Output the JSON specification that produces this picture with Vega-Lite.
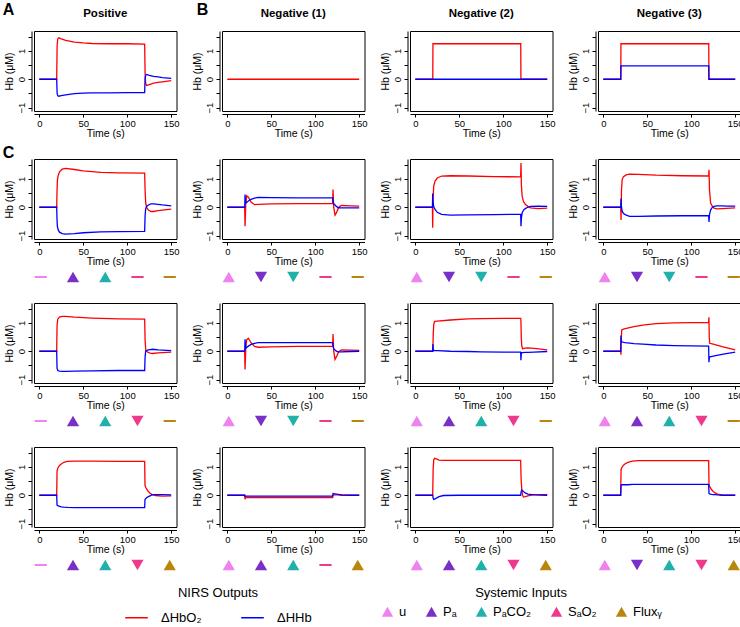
{
"$schema":"https://vega.github.io/schema/vega-lite/v6.json",
"padding":{"left":2,"top":1,"right":0,"bottom":0},
"bounds":"flush",
"columns":4,
"spacing":{"row":8,"column":45},
"resolve":{"scale":{"color":"shared","fill":"shared","shape":"shared"}},
"datasets":{
"L":[{"p":"A1","k":"letter","lab":"A","t":-35,"v":2.44},{"p":"A2","k":"letter","lab":"B","t":-28,"v":2.44},{"p":"C11","k":"letter","lab":"C","t":-35,"v":1.9},
{"p":"A1","k":"title","lab":"Positive","t":75,"v":2.3},{"p":"A2","k":"title","lab":"Negative (1)","t":75,"v":2.3},{"p":"A3","k":"title","lab":"Negative (2)","t":75,"v":2.3},{"p":"A4","k":"title","lab":"Negative (3)","t":75,"v":2.3}],
"A1":[{"t":0,"o":0,"h":0},{"t":19.8,"o":0,"h":0},{"t":20.3,"o":1.2,"h":-0.5},{"t":21,"o":1.42,"h":-0.58},{"t":22,"o":1.46,"h":-0.6},{"t":25,"o":1.42,"h":-0.58},{"t":30,"o":1.37,"h":-0.55},{"t":40,"o":1.31,"h":-0.51},{"t":50,"o":1.28,"h":-0.49},{"t":60,"o":1.26,"h":-0.48},{"t":80,"o":1.25,"h":-0.48},{"t":100,"o":1.25,"h":-0.47},{"t":119.8,"o":1.24,"h":-0.47},{"t":120.3,"o":0.2,"h":0.05},{"t":121,"o":-0.15,"h":0.14},{"t":122,"o":-0.22,"h":0.17},{"t":125,"o":-0.19,"h":0.14},{"t":130,"o":-0.14,"h":0.1},{"t":135,"o":-0.11,"h":0.08},{"t":140,"o":-0.09,"h":0.06},{"t":150,"o":-0.05,"h":0.03}],
"A2":[{"t":0,"o":0},{"t":150,"o":0}],
"A3":[{"t":0,"o":0,"h":0},{"t":19.9,"o":0,"h":0},{"t":20.1,"o":1.25,"h":0},{"t":119.9,"o":1.25,"h":0},{"t":120.1,"o":0,"h":0},{"t":150,"o":0,"h":0}],
"A4":[{"t":0,"o":0,"h":0},{"t":19.9,"o":0,"h":0},{"t":20.1,"o":1.25,"h":0.47},{"t":119.9,"o":1.25,"h":0.47},{"t":120.1,"o":0,"h":0},{"t":150,"o":0,"h":0}],
"C11":[{"t":0,"o":0,"h":0},{"t":19.8,"o":0,"h":0},{"t":20.2,"o":0.6,"h":-0.45},{"t":20.6,"o":0.95,"h":-0.68},{"t":21.5,"o":1.12,"h":-0.8},{"t":23,"o":1.25,"h":-0.88},{"t":26,"o":1.34,"h":-0.93},{"t":30,"o":1.37,"h":-0.95},{"t":40,"o":1.33,"h":-0.93},{"t":50,"o":1.28,"h":-0.9},{"t":70,"o":1.23,"h":-0.87},{"t":90,"o":1.21,"h":-0.86},{"t":119.8,"o":1.2,"h":-0.85},{"t":120.3,"o":0.6,"h":-0.3},{"t":121,"o":0.15,"h":-0.05},{"t":122,"o":0,"h":0.03},{"t":124,"o":-0.1,"h":0.08},{"t":127,"o":-0.15,"h":0.12},{"t":130,"o":-0.15,"h":0.12},{"t":135,"o":-0.12,"h":0.1},{"t":140,"o":-0.1,"h":0.08},{"t":150,"o":-0.07,"h":0.05}],
"C12":[{"t":0,"o":0,"h":0},{"t":19.8,"o":0,"h":0},{"t":20.2,"o":-0.67,"h":0.45},{"t":21,"o":0.1,"h":0.15},{"t":22,"o":0.4,"h":0.17},{"t":24,"o":0.35,"h":0.22},{"t":27,"o":0.18,"h":0.28},{"t":31,"o":0.09,"h":0.32},{"t":35,"o":0.1,"h":0.35},{"t":50,"o":0.12,"h":0.34},{"t":80,"o":0.13,"h":0.33},{"t":119.8,"o":0.13,"h":0.33},{"t":120.2,"o":0.62,"h":0.2},{"t":121,"o":0,"h":0.12},{"t":122.5,"o":-0.28,"h":0.08},{"t":124,"o":-0.2,"h":0.03},{"t":126,"o":-0.05,"h":-0.01},{"t":128,"o":0.03,"h":-0.02},{"t":130,"o":0.06,"h":-0.02},{"t":140,"o":0.05,"h":-0.02},{"t":150,"o":0.04,"h":-0.02}],
"C13":[{"t":0,"o":0,"h":0},{"t":19.5,"o":0,"h":0},{"t":19.8,"o":-0.72,"h":0.48},{"t":20.2,"o":0.3,"h":0.2},{"t":21,"o":0.75,"h":0.02},{"t":22.5,"o":0.92,"h":-0.08},{"t":25,"o":1.03,"h":-0.18},{"t":30,"o":1.1,"h":-0.25},{"t":40,"o":1.11,"h":-0.28},{"t":60,"o":1.1,"h":-0.27},{"t":90,"o":1.08,"h":-0.26},{"t":119.8,"o":1.07,"h":-0.25},{"t":120.2,"o":1.56,"h":-0.67},{"t":120.6,"o":0.8,"h":-0.4},{"t":121.5,"o":0.39,"h":-0.2},{"t":123,"o":0.2,"h":-0.1},{"t":125,"o":0.1,"h":-0.05},{"t":128,"o":0.03,"h":0},{"t":131,"o":-0.02,"h":0.03},{"t":140,"o":-0.05,"h":0.04},{"t":150,"o":-0.03,"h":0.03}],
"C14":[{"t":0,"o":0,"h":0},{"t":19.8,"o":0,"h":0},{"t":20.2,"o":-0.45,"h":0.31},{"t":20.7,"o":0.6,"h":0},{"t":21.5,"o":0.98,"h":-0.14},{"t":23,"o":1.08,"h":-0.22},{"t":26,"o":1.14,"h":-0.28},{"t":30,"o":1.17,"h":-0.32},{"t":40,"o":1.16,"h":-0.32},{"t":60,"o":1.13,"h":-0.31},{"t":90,"o":1.11,"h":-0.3},{"t":119.8,"o":1.1,"h":-0.3},{"t":120.2,"o":1.32,"h":-0.52},{"t":120.8,"o":0.6,"h":-0.25},{"t":122,"o":0.15,"h":-0.1},{"t":124,"o":0.03,"h":0},{"t":126,"o":-0.03,"h":0.03},{"t":129,"o":-0.06,"h":0.05},{"t":135,"o":-0.05,"h":0.05},{"t":140,"o":-0.04,"h":0.04},{"t":150,"o":-0.02,"h":0.04}],
"C21":[{"t":0,"o":0,"h":0},{"t":19.8,"o":0,"h":0},{"t":20.2,"o":0.9,"h":-0.6},{"t":21,"o":1.13,"h":-0.68},{"t":23,"o":1.2,"h":-0.7},{"t":26,"o":1.23,"h":-0.71},{"t":30,"o":1.23,"h":-0.71},{"t":40,"o":1.2,"h":-0.7},{"t":60,"o":1.17,"h":-0.69},{"t":90,"o":1.14,"h":-0.68},{"t":119.8,"o":1.13,"h":-0.68},{"t":120.3,"o":0.4,"h":-0.2},{"t":121,"o":0.05,"h":0},{"t":123,"o":-0.03,"h":0.04},{"t":126,"o":-0.07,"h":0.06},{"t":129,"o":-0.08,"h":0.07},{"t":135,"o":-0.06,"h":0.05},{"t":140,"o":-0.05,"h":0.04},{"t":150,"o":-0.03,"h":0.02}],
"C22":[{"t":0,"o":0,"h":0},{"t":19.8,"o":0,"h":0},{"t":20.2,"o":-0.64,"h":0.42},{"t":21,"o":0.1,"h":0.1},{"t":22,"o":0.4,"h":0.13},{"t":24,"o":0.46,"h":0.18},{"t":27,"o":0.3,"h":0.24},{"t":31,"o":0.17,"h":0.28},{"t":35,"o":0.14,"h":0.3},{"t":50,"o":0.15,"h":0.3},{"t":80,"o":0.17,"h":0.3},{"t":119.8,"o":0.17,"h":0.3},{"t":120.2,"o":0.61,"h":0.2},{"t":121,"o":0,"h":0.08},{"t":122.5,"o":-0.29,"h":0.04},{"t":124,"o":-0.2,"h":0},{"t":126,"o":-0.06,"h":-0.02},{"t":128,"o":0.02,"h":-0.02},{"t":130,"o":0.05,"h":-0.02},{"t":140,"o":0.04,"h":-0.01},{"t":150,"o":0.03,"h":0}],
"C23":[{"t":0,"o":0,"h":0},{"t":19.8,"o":0,"h":0},{"t":20.1,"o":0.2,"h":0.25},{"t":20.4,"o":0.6,"h":0.1},{"t":21,"o":0.95,"h":0.03},{"t":22,"o":1.05,"h":0.02},{"t":25,"o":1.06,"h":0.02},{"t":40,"o":1.1,"h":0},{"t":60,"o":1.14,"h":-0.01},{"t":75,"o":1.15,"h":-0.02},{"t":100,"o":1.16,"h":-0.03},{"t":119.8,"o":1.16,"h":-0.03},{"t":120.1,"o":1.1,"h":-0.32},{"t":120.5,"o":0.5,"h":-0.1},{"t":121,"o":0.2,"h":-0.05},{"t":122,"o":0.09,"h":-0.05},{"t":125,"o":0.11,"h":-0.04},{"t":128,"o":0.12,"h":-0.04},{"t":135,"o":0.1,"h":-0.03},{"t":150,"o":0.05,"h":-0.01}],
"C24":[{"t":0,"o":0,"h":0},{"t":19.8,"o":0,"h":0},{"t":20.1,"o":-0.12,"h":0.55},{"t":20.4,"o":0.4,"h":0.4},{"t":21,"o":0.75,"h":0.33},{"t":23,"o":0.78,"h":0.31},{"t":25,"o":0.8,"h":0.3},{"t":35,"o":0.87,"h":0.27},{"t":45,"o":0.92,"h":0.25},{"t":60,"o":0.97,"h":0.22},{"t":80,"o":1,"h":0.2},{"t":100,"o":1.01,"h":0.19},{"t":119.8,"o":1.02,"h":0.18},{"t":120.1,"o":1.2,"h":-0.39},{"t":120.5,"o":0.5,"h":-0.25},{"t":121,"o":0.28,"h":-0.2},{"t":125,"o":0.25,"h":-0.17},{"t":135,"o":0.16,"h":-0.11},{"t":150,"o":0.05,"h":-0.03}],
"C31":[{"t":0,"o":0,"h":0},{"t":19.8,"o":0,"h":0},{"t":20.2,"o":0.85,"h":-0.35},{"t":21,"o":0.95,"h":-0.37},{"t":23,"o":1.05,"h":-0.39},{"t":25,"o":1.1,"h":-0.41},{"t":28,"o":1.16,"h":-0.42},{"t":32,"o":1.19,"h":-0.43},{"t":40,"o":1.2,"h":-0.44},{"t":60,"o":1.2,"h":-0.44},{"t":90,"o":1.19,"h":-0.44},{"t":119.8,"o":1.19,"h":-0.44},{"t":120.2,"o":0.35,"h":-0.15},{"t":121,"o":0.28,"h":-0.12},{"t":122,"o":0.22,"h":-0.09},{"t":124,"o":0.13,"h":-0.05},{"t":126,"o":0.07,"h":-0.02},{"t":128,"o":0.03,"h":0.01},{"t":132,"o":-0.01,"h":0.02},{"t":140,"o":-0.03,"h":0.02},{"t":150,"o":-0.02,"h":0.01}],
"C32":[{"t":0,"o":0,"h":0},{"t":19.8,"o":0,"h":0},{"t":20.2,"o":-0.14,"h":-0.04},{"t":21,"o":-0.08,"h":-0.03},{"t":60,"o":-0.08,"h":-0.03},{"t":119.8,"o":-0.08,"h":-0.03},{"t":120.2,"o":0,"h":0.06},{"t":122,"o":0.01,"h":0.05},{"t":126,"o":0.01,"h":0.03},{"t":130,"o":0,"h":0.01},{"t":140,"o":0,"h":0},{"t":150,"o":0,"h":0}],
"C33":[{"t":0,"o":0,"h":0},{"t":19.8,"o":0,"h":0},{"t":20.3,"o":0.9,"h":-0.1},{"t":21,"o":1.25,"h":-0.15},{"t":22,"o":1.3,"h":-0.14},{"t":24,"o":1.28,"h":-0.1},{"t":27,"o":1.24,"h":-0.05},{"t":32,"o":1.23,"h":-0.01},{"t":50,"o":1.23,"h":0},{"t":119.8,"o":1.23,"h":0},{"t":120.3,"o":0.6,"h":0.12},{"t":121.2,"o":0.15,"h":0.18},{"t":122,"o":0,"h":0.16},{"t":123,"o":-0.06,"h":0.13},{"t":125,"o":-0.05,"h":0.08},{"t":128,"o":-0.02,"h":0.04},{"t":135,"o":0.02,"h":0.01},{"t":150,"o":0.02,"h":0}],
"C34":[{"t":0,"o":0,"h":0},{"t":19.8,"o":0,"h":0},{"t":20.2,"o":0.9,"h":0.36},{"t":21,"o":0.97,"h":0.37},{"t":23,"o":1.06,"h":0.37},{"t":25,"o":1.11,"h":0.37},{"t":28,"o":1.16,"h":0.37},{"t":33,"o":1.2,"h":0.38},{"t":40,"o":1.22,"h":0.38},{"t":80,"o":1.22,"h":0.38},{"t":119.8,"o":1.22,"h":0.38},{"t":120.2,"o":0.4,"h":0.06},{"t":121,"o":0.3,"h":0.05},{"t":123,"o":0.2,"h":0.03},{"t":125,"o":0.13,"h":0.02},{"t":127,"o":0.08,"h":0.02},{"t":130,"o":0.04,"h":0.01},{"t":135,"o":0.01,"h":0},{"t":140,"o":0,"h":0},{"t":150,"o":0,"h":0}],
"M":[
{"p":"C11","input":"u","dir":"flat"},{"p":"C11","input":"Pa","dir":"up"},{"p":"C11","input":"PaCO2","dir":"up"},{"p":"C11","input":"SaO2","dir":"flat"},{"p":"C11","input":"Fluxy","dir":"flat"},
{"p":"C12","input":"u","dir":"up"},{"p":"C12","input":"Pa","dir":"down"},{"p":"C12","input":"PaCO2","dir":"down"},{"p":"C12","input":"SaO2","dir":"flat"},{"p":"C12","input":"Fluxy","dir":"flat"},
{"p":"C13","input":"u","dir":"up"},{"p":"C13","input":"Pa","dir":"down"},{"p":"C13","input":"PaCO2","dir":"down"},{"p":"C13","input":"SaO2","dir":"flat"},{"p":"C13","input":"Fluxy","dir":"flat"},
{"p":"C14","input":"u","dir":"up"},{"p":"C14","input":"Pa","dir":"down"},{"p":"C14","input":"PaCO2","dir":"down"},{"p":"C14","input":"SaO2","dir":"flat"},{"p":"C14","input":"Fluxy","dir":"flat"},
{"p":"C21","input":"u","dir":"flat"},{"p":"C21","input":"Pa","dir":"up"},{"p":"C21","input":"PaCO2","dir":"up"},{"p":"C21","input":"SaO2","dir":"down"},{"p":"C21","input":"Fluxy","dir":"flat"},
{"p":"C22","input":"u","dir":"up"},{"p":"C22","input":"Pa","dir":"down"},{"p":"C22","input":"PaCO2","dir":"down"},{"p":"C22","input":"SaO2","dir":"flat"},{"p":"C22","input":"Fluxy","dir":"flat"},
{"p":"C23","input":"u","dir":"up"},{"p":"C23","input":"Pa","dir":"up"},{"p":"C23","input":"PaCO2","dir":"up"},{"p":"C23","input":"SaO2","dir":"down"},{"p":"C23","input":"Fluxy","dir":"flat"},
{"p":"C24","input":"u","dir":"up"},{"p":"C24","input":"Pa","dir":"up"},{"p":"C24","input":"PaCO2","dir":"up"},{"p":"C24","input":"SaO2","dir":"down"},{"p":"C24","input":"Fluxy","dir":"flat"},
{"p":"C31","input":"u","dir":"flat"},{"p":"C31","input":"Pa","dir":"up"},{"p":"C31","input":"PaCO2","dir":"up"},{"p":"C31","input":"SaO2","dir":"down"},{"p":"C31","input":"Fluxy","dir":"up"},
{"p":"C32","input":"u","dir":"up"},{"p":"C32","input":"Pa","dir":"up"},{"p":"C32","input":"PaCO2","dir":"up"},{"p":"C32","input":"SaO2","dir":"flat"},{"p":"C32","input":"Fluxy","dir":"up"},
{"p":"C33","input":"u","dir":"up"},{"p":"C33","input":"Pa","dir":"up"},{"p":"C33","input":"PaCO2","dir":"up"},{"p":"C33","input":"SaO2","dir":"down"},{"p":"C33","input":"Fluxy","dir":"up"},
{"p":"C34","input":"u","dir":"up"},{"p":"C34","input":"Pa","dir":"down"},{"p":"C34","input":"PaCO2","dir":"up"},{"p":"C34","input":"SaO2","dir":"down"},{"p":"C34","input":"Fluxy","dir":"up"}
]
},
"concat":[
 {"width":142.5,"height":80,"data":{"name":"A1"},
  "encoding":{"x":{"field":"t","type":"quantitative","scale":{"domain":[-6,156],"nice":false,"zero":false},"axis":{"values":[0,50,100,150],"title":"Time (s)"}}},
  "layer":[
   {"mark":{"type":"line","strokeWidth":1.3},"encoding":{"y":{"field":"o","type":"quantitative","scale":{"domain":[-1.12,1.7],"nice":false,"zero":false},"axis":{"values":[-1,-0.5,0,0.5,1,1.5],"labelExpr":"datum.value == -1 ? '−1' : datum.value == 0 ? '0' : datum.value == 1 ? '1' : ' '","title":"Hb (μM)"}},"color":{"datum":"ΔHbO₂","type":"nominal","scale":{"domain":["ΔHbO₂","ΔHHb"],"range":["#ff0000","#0000ff"]},"legend":{"title":"NIRS Outputs","orient":"none","legendX":90,"legendY":556,"direction":"horizontal","titleAnchor":"middle","titleOrient":"top","titleFontSize":13,"titleFontWeight":"normal","titlePadding":5,"labelFontSize":13,"symbolSize":510,"symbolStrokeWidth":1.5,"labelOffset":12,"columnPadding":36,"padding":0}}}},
   {"mark":{"type":"line","strokeWidth":1.3},"encoding":{"y":{"field":"h","type":"quantitative","axis":{"values":[-1,-0.5,0,0.5,1,1.5],"labelExpr":"datum.value == -1 ? '−1' : datum.value == 0 ? '0' : datum.value == 1 ? '1' : ' '","title":"Hb (μM)"}},"color":{"datum":"ΔHHb","type":"nominal"}}},
   {"data":{"name":"L"},"transform":[{"filter":"datum.p == 'A1' && datum.k == 'letter'"}],"mark":{"type":"text","fontSize":16,"fontWeight":"bold","clip":false,"color":"#000000"},"encoding":{"x":{"field":"t","type":"quantitative","axis":{"values":[0,50,100,150],"title":"Time (s)"}},"y":{"field":"v","type":"quantitative","axis":{"values":[-1,-0.5,0,0.5,1,1.5],"labelExpr":"datum.value == -1 ? '−1' : datum.value == 0 ? '0' : datum.value == 1 ? '1' : ' '","title":"Hb (μM)"}},"text":{"field":"lab","type":"nominal"}}},
   {"data":{"name":"L"},"transform":[{"filter":"datum.p == 'A1' && datum.k == 'title'"}],"mark":{"type":"text","fontSize":11.5,"fontWeight":"bold","clip":false,"color":"#000000"},"encoding":{"x":{"field":"t","type":"quantitative","axis":{"values":[0,50,100,150],"title":"Time (s)"}},"y":{"field":"v","type":"quantitative","axis":{"values":[-1,-0.5,0,0.5,1,1.5],"labelExpr":"datum.value == -1 ? '−1' : datum.value == 0 ? '0' : datum.value == 1 ? '1' : ' '","title":"Hb (μM)"}},"text":{"field":"lab","type":"nominal"}}}
  ]},
 {"width":142.5,"height":80,"data":{"name":"A2"},
  "encoding":{"x":{"field":"t","type":"quantitative","scale":{"domain":[-6,156],"nice":false,"zero":false},"axis":{"values":[0,50,100,150],"title":"Time (s)"}}},
  "layer":[
   {"mark":{"type":"line","strokeWidth":1.3},"encoding":{"y":{"field":"o","type":"quantitative","scale":{"domain":[-1.12,1.7],"nice":false,"zero":false},"axis":{"values":[-1,-0.5,0,0.5,1,1.5],"labelExpr":"datum.value == -1 ? '−1' : datum.value == 0 ? '0' : datum.value == 1 ? '1' : ' '","title":"Hb (μM)"}},"color":{"datum":"ΔHbO₂","type":"nominal","scale":{"domain":["ΔHbO₂","ΔHHb"],"range":["#ff0000","#0000ff"]}}}},
   {"data":{"name":"L"},"transform":[{"filter":"datum.p == 'A2' && datum.k == 'letter'"}],"mark":{"type":"text","fontSize":16,"fontWeight":"bold","clip":false,"color":"#000000"},"encoding":{"x":{"field":"t","type":"quantitative","axis":{"values":[0,50,100,150],"title":"Time (s)"}},"y":{"field":"v","type":"quantitative","axis":{"values":[-1,-0.5,0,0.5,1,1.5],"labelExpr":"datum.value == -1 ? '−1' : datum.value == 0 ? '0' : datum.value == 1 ? '1' : ' '","title":"Hb (μM)"}},"text":{"field":"lab","type":"nominal"}}},
   {"data":{"name":"L"},"transform":[{"filter":"datum.p == 'A2' && datum.k == 'title'"}],"mark":{"type":"text","fontSize":11.5,"fontWeight":"bold","clip":false,"color":"#000000"},"encoding":{"x":{"field":"t","type":"quantitative","axis":{"values":[0,50,100,150],"title":"Time (s)"}},"y":{"field":"v","type":"quantitative","axis":{"values":[-1,-0.5,0,0.5,1,1.5],"labelExpr":"datum.value == -1 ? '−1' : datum.value == 0 ? '0' : datum.value == 1 ? '1' : ' '","title":"Hb (μM)"}},"text":{"field":"lab","type":"nominal"}}}
  ]},
 {"width":142.5,"height":80,"data":{"name":"A3"},
  "encoding":{"x":{"field":"t","type":"quantitative","scale":{"domain":[-6,156],"nice":false,"zero":false},"axis":{"values":[0,50,100,150],"title":"Time (s)"}}},
  "layer":[
   {"mark":{"type":"line","strokeWidth":1.3},"encoding":{"y":{"field":"o","type":"quantitative","scale":{"domain":[-1.12,1.7],"nice":false,"zero":false},"axis":{"values":[-1,-0.5,0,0.5,1,1.5],"labelExpr":"datum.value == -1 ? '−1' : datum.value == 0 ? '0' : datum.value == 1 ? '1' : ' '","title":"Hb (μM)"}},"color":{"datum":"ΔHbO₂","type":"nominal","scale":{"domain":["ΔHbO₂","ΔHHb"],"range":["#ff0000","#0000ff"]}}}},
   {"mark":{"type":"line","strokeWidth":1.3},"encoding":{"y":{"field":"h","type":"quantitative","axis":{"values":[-1,-0.5,0,0.5,1,1.5],"labelExpr":"datum.value == -1 ? '−1' : datum.value == 0 ? '0' : datum.value == 1 ? '1' : ' '","title":"Hb (μM)"}},"color":{"datum":"ΔHHb","type":"nominal"}}},
   {"data":{"name":"L"},"transform":[{"filter":"datum.p == 'A3' && datum.k == 'title'"}],"mark":{"type":"text","fontSize":11.5,"fontWeight":"bold","clip":false,"color":"#000000"},"encoding":{"x":{"field":"t","type":"quantitative","axis":{"values":[0,50,100,150],"title":"Time (s)"}},"y":{"field":"v","type":"quantitative","axis":{"values":[-1,-0.5,0,0.5,1,1.5],"labelExpr":"datum.value == -1 ? '−1' : datum.value == 0 ? '0' : datum.value == 1 ? '1' : ' '","title":"Hb (μM)"}},"text":{"field":"lab","type":"nominal"}}}
  ]},
 {"width":142.5,"height":80,"data":{"name":"A4"},
  "encoding":{"x":{"field":"t","type":"quantitative","scale":{"domain":[-6,156],"nice":false,"zero":false},"axis":{"values":[0,50,100,150],"title":"Time (s)"}}},
  "layer":[
   {"mark":{"type":"line","strokeWidth":1.3},"encoding":{"y":{"field":"o","type":"quantitative","scale":{"domain":[-1.12,1.7],"nice":false,"zero":false},"axis":{"values":[-1,-0.5,0,0.5,1,1.5],"labelExpr":"datum.value == -1 ? '−1' : datum.value == 0 ? '0' : datum.value == 1 ? '1' : ' '","title":"Hb (μM)"}},"color":{"datum":"ΔHbO₂","type":"nominal","scale":{"domain":["ΔHbO₂","ΔHHb"],"range":["#ff0000","#0000ff"]}}}},
   {"mark":{"type":"line","strokeWidth":1.3},"encoding":{"y":{"field":"h","type":"quantitative","axis":{"values":[-1,-0.5,0,0.5,1,1.5],"labelExpr":"datum.value == -1 ? '−1' : datum.value == 0 ? '0' : datum.value == 1 ? '1' : ' '","title":"Hb (μM)"}},"color":{"datum":"ΔHHb","type":"nominal"}}},
   {"data":{"name":"L"},"transform":[{"filter":"datum.p == 'A4' && datum.k == 'title'"}],"mark":{"type":"text","fontSize":11.5,"fontWeight":"bold","clip":false,"color":"#000000"},"encoding":{"x":{"field":"t","type":"quantitative","axis":{"values":[0,50,100,150],"title":"Time (s)"}},"y":{"field":"v","type":"quantitative","axis":{"values":[-1,-0.5,0,0.5,1,1.5],"labelExpr":"datum.value == -1 ? '−1' : datum.value == 0 ? '0' : datum.value == 1 ? '1' : ' '","title":"Hb (μM)"}},"text":{"field":"lab","type":"nominal"}}}
  ]},
 {"width":142.5,"height":32,"view":{"stroke":null},"data":{"values":[]},"mark":"point"},
 {"width":142.5,"height":32,"view":{"stroke":null},"data":{"values":[]},"mark":"point"},
 {"width":142.5,"height":32,"view":{"stroke":null},"data":{"values":[]},"mark":"point"},
 {"width":142.5,"height":32,"view":{"stroke":null},"data":{"values":[]},"mark":"point"},
 {"width":142.5,"height":80,"data":{"name":"C11"},
  "encoding":{"x":{"field":"t","type":"quantitative","scale":{"domain":[-6,156],"nice":false,"zero":false},"axis":{"values":[0,50,100,150],"title":"Time (s)"}}},
  "layer":[
   {"mark":{"type":"line","strokeWidth":1.3},"encoding":{"y":{"field":"o","type":"quantitative","scale":{"domain":[-1.12,1.7],"nice":false,"zero":false},"axis":{"values":[-1,-0.5,0,0.5,1,1.5],"labelExpr":"datum.value == -1 ? '−1' : datum.value == 0 ? '0' : datum.value == 1 ? '1' : ' '","title":"Hb (μM)"}},"color":{"datum":"ΔHbO₂","type":"nominal","scale":{"domain":["ΔHbO₂","ΔHHb"],"range":["#ff0000","#0000ff"]}}}},
   {"mark":{"type":"line","strokeWidth":1.3},"encoding":{"y":{"field":"h","type":"quantitative","axis":{"values":[-1,-0.5,0,0.5,1,1.5],"labelExpr":"datum.value == -1 ? '−1' : datum.value == 0 ? '0' : datum.value == 1 ? '1' : ' '","title":"Hb (μM)"}},"color":{"datum":"ΔHHb","type":"nominal"}}},
   {"data":{"name":"L"},"transform":[{"filter":"datum.p == 'C11' && datum.k == 'letter'"}],"mark":{"type":"text","fontSize":16,"fontWeight":"bold","clip":false,"color":"#000000"},"encoding":{"x":{"field":"t","type":"quantitative","axis":{"values":[0,50,100,150],"title":"Time (s)"}},"y":{"field":"v","type":"quantitative","axis":{"values":[-1,-0.5,0,0.5,1,1.5],"labelExpr":"datum.value == -1 ? '−1' : datum.value == 0 ? '0' : datum.value == 1 ? '1' : ' '","title":"Hb (μM)"}},"text":{"field":"lab","type":"nominal"}}}
  ]},
 {"width":142.5,"height":80,"data":{"name":"C12"},
  "encoding":{"x":{"field":"t","type":"quantitative","scale":{"domain":[-6,156],"nice":false,"zero":false},"axis":{"values":[0,50,100,150],"title":"Time (s)"}}},
  "layer":[
   {"mark":{"type":"line","strokeWidth":1.3},"encoding":{"y":{"field":"o","type":"quantitative","scale":{"domain":[-1.12,1.7],"nice":false,"zero":false},"axis":{"values":[-1,-0.5,0,0.5,1,1.5],"labelExpr":"datum.value == -1 ? '−1' : datum.value == 0 ? '0' : datum.value == 1 ? '1' : ' '","title":"Hb (μM)"}},"color":{"datum":"ΔHbO₂","type":"nominal","scale":{"domain":["ΔHbO₂","ΔHHb"],"range":["#ff0000","#0000ff"]}}}},
   {"mark":{"type":"line","strokeWidth":1.3},"encoding":{"y":{"field":"h","type":"quantitative","axis":{"title":"Hb (μM)","values":[-1,-0.5,0,0.5,1,1.5]}},"color":{"datum":"ΔHHb","type":"nominal"}}}
  ]},
 {"width":142.5,"height":80,"data":{"name":"C13"},
  "encoding":{"x":{"field":"t","type":"quantitative","scale":{"domain":[-6,156],"nice":false,"zero":false},"axis":{"values":[0,50,100,150],"title":"Time (s)"}}},
  "layer":[
   {"mark":{"type":"line","strokeWidth":1.3},"encoding":{"y":{"field":"o","type":"quantitative","scale":{"domain":[-1.12,1.7],"nice":false,"zero":false},"axis":{"values":[-1,-0.5,0,0.5,1,1.5],"labelExpr":"datum.value == -1 ? '−1' : datum.value == 0 ? '0' : datum.value == 1 ? '1' : ' '","title":"Hb (μM)"}},"color":{"datum":"ΔHbO₂","type":"nominal","scale":{"domain":["ΔHbO₂","ΔHHb"],"range":["#ff0000","#0000ff"]}}}},
   {"mark":{"type":"line","strokeWidth":1.3},"encoding":{"y":{"field":"h","type":"quantitative","axis":{"title":"Hb (μM)","values":[-1,-0.5,0,0.5,1,1.5]}},"color":{"datum":"ΔHHb","type":"nominal"}}}
  ]},
 {"width":142.5,"height":80,"data":{"name":"C14"},
  "encoding":{"x":{"field":"t","type":"quantitative","scale":{"domain":[-6,156],"nice":false,"zero":false},"axis":{"values":[0,50,100,150],"title":"Time (s)"}}},
  "layer":[
   {"mark":{"type":"line","strokeWidth":1.3},"encoding":{"y":{"field":"o","type":"quantitative","scale":{"domain":[-1.12,1.7],"nice":false,"zero":false},"axis":{"values":[-1,-0.5,0,0.5,1,1.5],"labelExpr":"datum.value == -1 ? '−1' : datum.value == 0 ? '0' : datum.value == 1 ? '1' : ' '","title":"Hb (μM)"}},"color":{"datum":"ΔHbO₂","type":"nominal","scale":{"domain":["ΔHbO₂","ΔHHb"],"range":["#ff0000","#0000ff"]}}}},
   {"mark":{"type":"line","strokeWidth":1.3},"encoding":{"y":{"field":"h","type":"quantitative","axis":{"title":"Hb (μM)","values":[-1,-0.5,0,0.5,1,1.5]}},"color":{"datum":"ΔHHb","type":"nominal"}}}
  ]},
 {"width":142.5,"height":48,"view":{"stroke":null},"data":{"name":"M"},"transform":[{"filter":"datum.p == 'C11'"}],"mark":{"type":"point","filled":true,"size":150,"opacity":1,"yOffset":6},
  "encoding":{"x":{"field":"input","type":"nominal","scale":{"type":"point","domain":["u","Pa","PaCO2","SaO2","Fluxy"],"padding":0.21},"axis":null},
   "fill":{"field":"input","type":"nominal","scale":{"domain":["u","Pa","PaCO2","SaO2","Fluxy"],"range":["#ee82ee","#7b2fc9","#20b2aa","#ee3a8c","#b8860b"]},"legend":{"title":"Systemic Inputs","orient":"none","legendX":347,"legendY":556,"direction":"horizontal","titleAnchor":"middle","titleOrient":"top","titleFontSize":13,"titleFontWeight":"normal","titlePadding":5,"labelFontSize":13,"symbolType":"triangle-up","symbolSize":130,"symbolStrokeWidth":0,"labelOffset":5,"columnPadding":18,"padding":0,"labelExpr":"datum.label == 'Pa' ? 'Pₐ' : datum.label == 'PaCO2' ? 'PₐCO₂' : datum.label == 'SaO2' ? 'SₐO₂' : datum.label == 'Fluxy' ? 'Fluxᵧ' : datum.label"}},
   "shape":{"field":"dir","type":"nominal","scale":{"domain":["up","down","flat"],"range":["triangle-up","triangle-down","M-1,-0.16L1,-0.16L1,0.16L-1,0.16Z"]},"legend":null}}},
 {"width":142.5,"height":48,"view":{"stroke":null},"data":{"name":"M"},"transform":[{"filter":"datum.p == 'C12'"}],"mark":{"type":"point","filled":true,"size":150,"opacity":1,"yOffset":6},
  "encoding":{"x":{"field":"input","type":"nominal","scale":{"type":"point","domain":["u","Pa","PaCO2","SaO2","Fluxy"],"padding":0.21},"axis":null},"fill":{"field":"input","type":"nominal"},"shape":{"field":"dir","type":"nominal","legend":null}}},
 {"width":142.5,"height":48,"view":{"stroke":null},"data":{"name":"M"},"transform":[{"filter":"datum.p == 'C13'"}],"mark":{"type":"point","filled":true,"size":150,"opacity":1,"yOffset":6},
  "encoding":{"x":{"field":"input","type":"nominal","scale":{"type":"point","domain":["u","Pa","PaCO2","SaO2","Fluxy"],"padding":0.21},"axis":null},"fill":{"field":"input","type":"nominal"},"shape":{"field":"dir","type":"nominal","legend":null}}},
 {"width":142.5,"height":48,"view":{"stroke":null},"data":{"name":"M"},"transform":[{"filter":"datum.p == 'C14'"}],"mark":{"type":"point","filled":true,"size":150,"opacity":1,"yOffset":6},
  "encoding":{"x":{"field":"input","type":"nominal","scale":{"type":"point","domain":["u","Pa","PaCO2","SaO2","Fluxy"],"padding":0.21},"axis":null},"fill":{"field":"input","type":"nominal"},"shape":{"field":"dir","type":"nominal","legend":null}}},
 {"width":142.5,"height":80,"data":{"name":"C21"},
  "encoding":{"x":{"field":"t","type":"quantitative","scale":{"domain":[-6,156],"nice":false,"zero":false},"axis":{"values":[0,50,100,150],"title":"Time (s)"}}},
  "layer":[
   {"mark":{"type":"line","strokeWidth":1.3},"encoding":{"y":{"field":"o","type":"quantitative","scale":{"domain":[-1.12,1.7],"nice":false,"zero":false},"axis":{"values":[-1,-0.5,0,0.5,1,1.5],"labelExpr":"datum.value == -1 ? '−1' : datum.value == 0 ? '0' : datum.value == 1 ? '1' : ' '","title":"Hb (μM)"}},"color":{"datum":"ΔHbO₂","type":"nominal","scale":{"domain":["ΔHbO₂","ΔHHb"],"range":["#ff0000","#0000ff"]}}}},
   {"mark":{"type":"line","strokeWidth":1.3},"encoding":{"y":{"field":"h","type":"quantitative","axis":{"title":"Hb (μM)","values":[-1,-0.5,0,0.5,1,1.5]}},"color":{"datum":"ΔHHb","type":"nominal"}}}
  ]},
 {"width":142.5,"height":80,"data":{"name":"C22"},
  "encoding":{"x":{"field":"t","type":"quantitative","scale":{"domain":[-6,156],"nice":false,"zero":false},"axis":{"values":[0,50,100,150],"title":"Time (s)"}}},
  "layer":[
   {"mark":{"type":"line","strokeWidth":1.3},"encoding":{"y":{"field":"o","type":"quantitative","scale":{"domain":[-1.12,1.7],"nice":false,"zero":false},"axis":{"values":[-1,-0.5,0,0.5,1,1.5],"labelExpr":"datum.value == -1 ? '−1' : datum.value == 0 ? '0' : datum.value == 1 ? '1' : ' '","title":"Hb (μM)"}},"color":{"datum":"ΔHbO₂","type":"nominal","scale":{"domain":["ΔHbO₂","ΔHHb"],"range":["#ff0000","#0000ff"]}}}},
   {"mark":{"type":"line","strokeWidth":1.3},"encoding":{"y":{"field":"h","type":"quantitative","axis":{"title":"Hb (μM)","values":[-1,-0.5,0,0.5,1,1.5]}},"color":{"datum":"ΔHHb","type":"nominal"}}}
  ]},
 {"width":142.5,"height":80,"data":{"name":"C23"},
  "encoding":{"x":{"field":"t","type":"quantitative","scale":{"domain":[-6,156],"nice":false,"zero":false},"axis":{"values":[0,50,100,150],"title":"Time (s)"}}},
  "layer":[
   {"mark":{"type":"line","strokeWidth":1.3},"encoding":{"y":{"field":"o","type":"quantitative","scale":{"domain":[-1.12,1.7],"nice":false,"zero":false},"axis":{"values":[-1,-0.5,0,0.5,1,1.5],"labelExpr":"datum.value == -1 ? '−1' : datum.value == 0 ? '0' : datum.value == 1 ? '1' : ' '","title":"Hb (μM)"}},"color":{"datum":"ΔHbO₂","type":"nominal","scale":{"domain":["ΔHbO₂","ΔHHb"],"range":["#ff0000","#0000ff"]}}}},
   {"mark":{"type":"line","strokeWidth":1.3},"encoding":{"y":{"field":"h","type":"quantitative","axis":{"title":"Hb (μM)","values":[-1,-0.5,0,0.5,1,1.5]}},"color":{"datum":"ΔHHb","type":"nominal"}}}
  ]},
 {"width":142.5,"height":80,"data":{"name":"C24"},
  "encoding":{"x":{"field":"t","type":"quantitative","scale":{"domain":[-6,156],"nice":false,"zero":false},"axis":{"values":[0,50,100,150],"title":"Time (s)"}}},
  "layer":[
   {"mark":{"type":"line","strokeWidth":1.3},"encoding":{"y":{"field":"o","type":"quantitative","scale":{"domain":[-1.12,1.7],"nice":false,"zero":false},"axis":{"values":[-1,-0.5,0,0.5,1,1.5],"labelExpr":"datum.value == -1 ? '−1' : datum.value == 0 ? '0' : datum.value == 1 ? '1' : ' '","title":"Hb (μM)"}},"color":{"datum":"ΔHbO₂","type":"nominal","scale":{"domain":["ΔHbO₂","ΔHHb"],"range":["#ff0000","#0000ff"]}}}},
   {"mark":{"type":"line","strokeWidth":1.3},"encoding":{"y":{"field":"h","type":"quantitative","axis":{"title":"Hb (μM)","values":[-1,-0.5,0,0.5,1,1.5]}},"color":{"datum":"ΔHHb","type":"nominal"}}}
  ]},
 {"width":142.5,"height":48,"view":{"stroke":null},"data":{"name":"M"},"transform":[{"filter":"datum.p == 'C21'"}],"mark":{"type":"point","filled":true,"size":150,"opacity":1,"yOffset":6},
  "encoding":{"x":{"field":"input","type":"nominal","scale":{"type":"point","domain":["u","Pa","PaCO2","SaO2","Fluxy"],"padding":0.21},"axis":null},"fill":{"field":"input","type":"nominal"},"shape":{"field":"dir","type":"nominal","legend":null}}},
 {"width":142.5,"height":48,"view":{"stroke":null},"data":{"name":"M"},"transform":[{"filter":"datum.p == 'C22'"}],"mark":{"type":"point","filled":true,"size":150,"opacity":1,"yOffset":6},
  "encoding":{"x":{"field":"input","type":"nominal","scale":{"type":"point","domain":["u","Pa","PaCO2","SaO2","Fluxy"],"padding":0.21},"axis":null},"fill":{"field":"input","type":"nominal"},"shape":{"field":"dir","type":"nominal","legend":null}}},
 {"width":142.5,"height":48,"view":{"stroke":null},"data":{"name":"M"},"transform":[{"filter":"datum.p == 'C23'"}],"mark":{"type":"point","filled":true,"size":150,"opacity":1,"yOffset":6},
  "encoding":{"x":{"field":"input","type":"nominal","scale":{"type":"point","domain":["u","Pa","PaCO2","SaO2","Fluxy"],"padding":0.21},"axis":null},"fill":{"field":"input","type":"nominal"},"shape":{"field":"dir","type":"nominal","legend":null}}},
 {"width":142.5,"height":48,"view":{"stroke":null},"data":{"name":"M"},"transform":[{"filter":"datum.p == 'C24'"}],"mark":{"type":"point","filled":true,"size":150,"opacity":1,"yOffset":6},
  "encoding":{"x":{"field":"input","type":"nominal","scale":{"type":"point","domain":["u","Pa","PaCO2","SaO2","Fluxy"],"padding":0.21},"axis":null},"fill":{"field":"input","type":"nominal"},"shape":{"field":"dir","type":"nominal","legend":null}}},
 {"width":142.5,"height":80,"data":{"name":"C31"},
  "encoding":{"x":{"field":"t","type":"quantitative","scale":{"domain":[-6,156],"nice":false,"zero":false},"axis":{"values":[0,50,100,150],"title":"Time (s)"}}},
  "layer":[
   {"mark":{"type":"line","strokeWidth":1.3},"encoding":{"y":{"field":"o","type":"quantitative","scale":{"domain":[-1.12,1.7],"nice":false,"zero":false},"axis":{"values":[-1,-0.5,0,0.5,1,1.5],"labelExpr":"datum.value == -1 ? '−1' : datum.value == 0 ? '0' : datum.value == 1 ? '1' : ' '","title":"Hb (μM)"}},"color":{"datum":"ΔHbO₂","type":"nominal","scale":{"domain":["ΔHbO₂","ΔHHb"],"range":["#ff0000","#0000ff"]}}}},
   {"mark":{"type":"line","strokeWidth":1.3},"encoding":{"y":{"field":"h","type":"quantitative","axis":{"title":"Hb (μM)","values":[-1,-0.5,0,0.5,1,1.5]}},"color":{"datum":"ΔHHb","type":"nominal"}}}
  ]},
 {"width":142.5,"height":80,"data":{"name":"C32"},
  "encoding":{"x":{"field":"t","type":"quantitative","scale":{"domain":[-6,156],"nice":false,"zero":false},"axis":{"values":[0,50,100,150],"title":"Time (s)"}}},
  "layer":[
   {"mark":{"type":"line","strokeWidth":1.3},"encoding":{"y":{"field":"o","type":"quantitative","scale":{"domain":[-1.12,1.7],"nice":false,"zero":false},"axis":{"values":[-1,-0.5,0,0.5,1,1.5],"labelExpr":"datum.value == -1 ? '−1' : datum.value == 0 ? '0' : datum.value == 1 ? '1' : ' '","title":"Hb (μM)"}},"color":{"datum":"ΔHbO₂","type":"nominal","scale":{"domain":["ΔHbO₂","ΔHHb"],"range":["#ff0000","#0000ff"]}}}},
   {"mark":{"type":"line","strokeWidth":1.3},"encoding":{"y":{"field":"h","type":"quantitative","axis":{"title":"Hb (μM)","values":[-1,-0.5,0,0.5,1,1.5]}},"color":{"datum":"ΔHHb","type":"nominal"}}}
  ]},
 {"width":142.5,"height":80,"data":{"name":"C33"},
  "encoding":{"x":{"field":"t","type":"quantitative","scale":{"domain":[-6,156],"nice":false,"zero":false},"axis":{"values":[0,50,100,150],"title":"Time (s)"}}},
  "layer":[
   {"mark":{"type":"line","strokeWidth":1.3},"encoding":{"y":{"field":"o","type":"quantitative","scale":{"domain":[-1.12,1.7],"nice":false,"zero":false},"axis":{"values":[-1,-0.5,0,0.5,1,1.5],"labelExpr":"datum.value == -1 ? '−1' : datum.value == 0 ? '0' : datum.value == 1 ? '1' : ' '","title":"Hb (μM)"}},"color":{"datum":"ΔHbO₂","type":"nominal","scale":{"domain":["ΔHbO₂","ΔHHb"],"range":["#ff0000","#0000ff"]}}}},
   {"mark":{"type":"line","strokeWidth":1.3},"encoding":{"y":{"field":"h","type":"quantitative","axis":{"title":"Hb (μM)","values":[-1,-0.5,0,0.5,1,1.5]}},"color":{"datum":"ΔHHb","type":"nominal"}}}
  ]},
 {"width":142.5,"height":80,"data":{"name":"C34"},
  "encoding":{"x":{"field":"t","type":"quantitative","scale":{"domain":[-6,156],"nice":false,"zero":false},"axis":{"values":[0,50,100,150],"title":"Time (s)"}}},
  "layer":[
   {"mark":{"type":"line","strokeWidth":1.3},"encoding":{"y":{"field":"o","type":"quantitative","scale":{"domain":[-1.12,1.7],"nice":false,"zero":false},"axis":{"values":[-1,-0.5,0,0.5,1,1.5],"labelExpr":"datum.value == -1 ? '−1' : datum.value == 0 ? '0' : datum.value == 1 ? '1' : ' '","title":"Hb (μM)"}},"color":{"datum":"ΔHbO₂","type":"nominal","scale":{"domain":["ΔHbO₂","ΔHHb"],"range":["#ff0000","#0000ff"]}}}},
   {"mark":{"type":"line","strokeWidth":1.3},"encoding":{"y":{"field":"h","type":"quantitative","axis":{"title":"Hb (μM)","values":[-1,-0.5,0,0.5,1,1.5]}},"color":{"datum":"ΔHHb","type":"nominal"}}}
  ]},
 {"width":142.5,"height":48,"view":{"stroke":null},"data":{"name":"M"},"transform":[{"filter":"datum.p == 'C31'"}],"mark":{"type":"point","filled":true,"size":150,"opacity":1,"yOffset":6},
  "encoding":{"x":{"field":"input","type":"nominal","scale":{"type":"point","domain":["u","Pa","PaCO2","SaO2","Fluxy"],"padding":0.21},"axis":null},"fill":{"field":"input","type":"nominal"},"shape":{"field":"dir","type":"nominal","legend":null}}},
 {"width":142.5,"height":48,"view":{"stroke":null},"data":{"name":"M"},"transform":[{"filter":"datum.p == 'C32'"}],"mark":{"type":"point","filled":true,"size":150,"opacity":1,"yOffset":6},
  "encoding":{"x":{"field":"input","type":"nominal","scale":{"type":"point","domain":["u","Pa","PaCO2","SaO2","Fluxy"],"padding":0.21},"axis":null},"fill":{"field":"input","type":"nominal"},"shape":{"field":"dir","type":"nominal","legend":null}}},
 {"width":142.5,"height":48,"view":{"stroke":null},"data":{"name":"M"},"transform":[{"filter":"datum.p == 'C33'"}],"mark":{"type":"point","filled":true,"size":150,"opacity":1,"yOffset":6},
  "encoding":{"x":{"field":"input","type":"nominal","scale":{"type":"point","domain":["u","Pa","PaCO2","SaO2","Fluxy"],"padding":0.21},"axis":null},"fill":{"field":"input","type":"nominal"},"shape":{"field":"dir","type":"nominal","legend":null}}},
 {"width":142.5,"height":48,"view":{"stroke":null},"data":{"name":"M"},"transform":[{"filter":"datum.p == 'C34'"}],"mark":{"type":"point","filled":true,"size":150,"opacity":1,"yOffset":6},
  "encoding":{"x":{"field":"input","type":"nominal","scale":{"type":"point","domain":["u","Pa","PaCO2","SaO2","Fluxy"],"padding":0.21},"axis":null},"fill":{"field":"input","type":"nominal"},"shape":{"field":"dir","type":"nominal","legend":null}}}
],
"config":{
 "font":"Liberation Sans",
 "view":{"stroke":"#000000","strokeWidth":1},
 "axis":{"grid":false,"domainColor":"#000000","tickColor":"#000000","labelColor":"#000000","titleColor":"#000000","labelFontSize":9.5,"titleFontSize":10.5,"titleFontWeight":"normal","domainWidth":1,"tickWidth":1,"labelOverlap":false},
 "axisX":{"offset":3,"tickSize":3,"labelPadding":1,"titlePadding":1,"labelFlush":false,"labelAngle":0},
 "axisY":{"offset":2.5,"tickSize":3.5,"labelAngle":-90,"labelPadding":2,"titlePadding":2,"labelFlush":false},
 "legend":{"labelColor":"#000000","titleColor":"#000000"}
}
}
